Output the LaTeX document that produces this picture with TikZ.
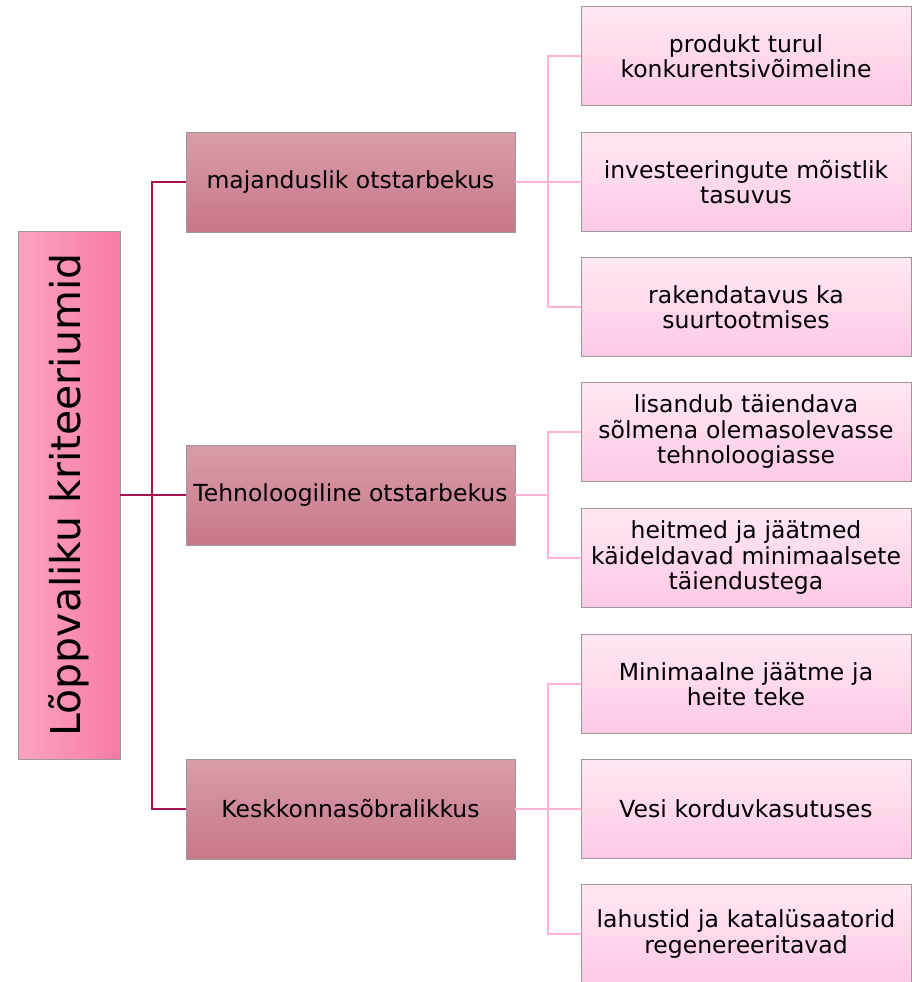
\documentclass[tikz,border=0pt]{standalone}
\usepackage{fontspec}
\setmainfont{DejaVu Sans}
\usetikzlibrary{positioning}

\definecolor{trunkline}{HTML}{A8124E}
\definecolor{branchline}{HTML}{FFB3D9}
\definecolor{rootleft}{HTML}{FBA3C2}
\definecolor{rootright}{HTML}{F77BA6}
\definecolor{midtop}{HTML}{D99DAA}
\definecolor{midbottom}{HTML}{C77788}
\definecolor{leaftop}{HTML}{FFE8F4}
\definecolor{leafbottom}{HTML}{FFC9E5}

\begin{document}
\begin{tikzpicture}[
    x=1pt, y=-1pt,
    rootbox/.style={rectangle, draw=gray!80, left color=rootleft, right color=rootright,
        minimum width=528pt, minimum height=102pt, rotate=90, inner sep=0pt,
        font=\fontsize{41}{48}\selectfont},
    midbox/.style={rectangle, draw=gray!80, top color=midtop, bottom color=midbottom,
        minimum width=329pt, minimum height=100pt, inner sep=0pt,
        font=\fontsize{23.5}{26}\selectfont},
    leafbox/.style={rectangle, draw=gray!80, top color=leaftop, bottom color=leafbottom,
        minimum width=330pt, minimum height=99pt, text width=328pt, inner sep=1pt,
        align=center, font=\fontsize{23.5}{25.5}\selectfont},
    trunk/.style={draw=trunkline, line width=2pt},
    branch/.style={draw=branchline, line width=2pt}
]
\useasboundingbox (0,0) rectangle (912,982);

% Root
\node[rootbox] (root) at (69,495) {Lõppvaliku kriteeriumid};

% Criteria
\node[midbox] (econ) at (350.5,182) {majanduslik otstarbekus};
\node[midbox] (tech) at (350.5,495) {Tehnoloogiline otstarbekus};
\node[midbox] (env) at (350.5,809) {Keskkonnasõbralikkus};

% Sub-criteria
\node[leafbox] (econa) at (746,56) {produkt turul\\konkurentsivõimeline};
\node[leafbox] (econb) at (746,182) {investeeringute mõistlik\\tasuvus};
\node[leafbox] (econc) at (746,307) {rakendatavus ka\\suurtootmises};
\node[leafbox] (techa) at (746,432) {lisandub täiendava\\sõlmena olemasolevasse\\tehnoloogiasse};
\node[leafbox] (techb) at (746,558) {heitmed ja jäätmed\\käideldavad minimaalsete\\täiendustega};
\node[leafbox] (enva) at (746,684) {Minimaalne jäätme ja\\heite teke};
\node[leafbox] (envb) at (746,809) {Vesi korduvkasutuses};
\node[leafbox] (envc) at (746,934) {lahustid ja katalüsaatorid\\regenereeritavad};

% Trunk from root
\coordinate (hub) at (152,495);
\draw[trunk] (root.south) -- (hub);
\draw[trunk] (econ.west) -| (hub) |- (env.west);
\draw[trunk] (hub) -- (tech.west);

% Branches to sub-criteria
\coordinate (econhub) at (548,182);
\coordinate (techhub) at (548,495);
\coordinate (envhub) at (548,809);

\draw[branch] (econ.east) -- (econhub);
\draw[branch] (econa.west) -| (econhub) |- (econc.west);
\draw[branch] (econhub) -- (econb.west);

\draw[branch] (tech.east) -- (techhub);
\draw[branch] (techa.west) -| (techhub) |- (techb.west);

\draw[branch] (env.east) -- (envhub);
\draw[branch] (enva.west) -| (envhub) |- (envc.west);
\draw[branch] (envhub) -- (envb.west);

\end{tikzpicture}
\end{document}
